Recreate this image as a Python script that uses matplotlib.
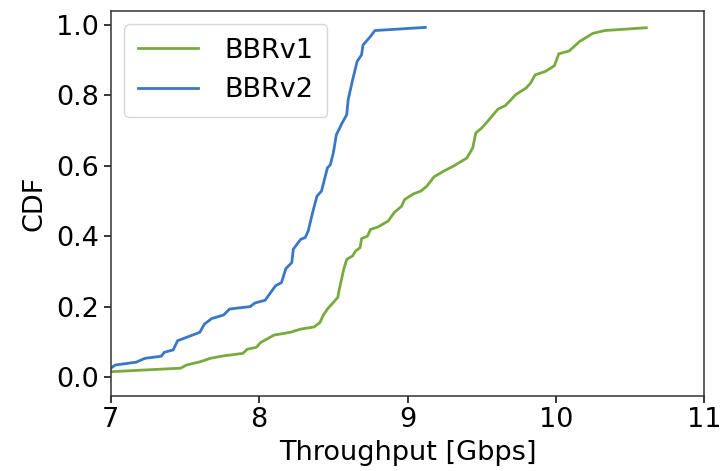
import matplotlib
matplotlib.use("Agg")
import matplotlib.pyplot as plt

# throughput (Gbps) / CDF points
BBRV1_X = [7.00, 7.47, 7.51, 7.60, 7.67, 7.76, 7.89, 7.92, 7.98, 8.01, 8.07, 8.10,
           8.21, 8.28, 8.37, 8.41, 8.43, 8.46, 8.49, 8.53, 8.54, 8.57, 8.59, 8.63,
           8.65, 8.68, 8.69, 8.73, 8.75, 8.80, 8.87, 8.91, 8.96, 8.98, 9.04, 9.09,
           9.13, 9.18, 9.25, 9.31, 9.40, 9.44, 9.46, 9.50, 9.54, 9.61, 9.66, 9.73,
           9.80, 9.83, 9.86, 9.93, 9.99, 10.02, 10.09, 10.16, 10.25, 10.33, 10.61]
BBRV1_Y = [0.015, 0.025, 0.034, 0.043, 0.053, 0.060, 0.067, 0.079, 0.084, 0.098, 0.112, 0.119,
           0.127, 0.136, 0.142, 0.155, 0.174, 0.193, 0.207, 0.226, 0.249, 0.306, 0.334, 0.344,
           0.358, 0.367, 0.393, 0.400, 0.419, 0.426, 0.443, 0.467, 0.485, 0.504, 0.520, 0.528,
           0.542, 0.569, 0.586, 0.599, 0.622, 0.651, 0.693, 0.707, 0.726, 0.761, 0.771, 0.802,
           0.821, 0.835, 0.858, 0.868, 0.884, 0.918, 0.926, 0.953, 0.976, 0.984, 0.992]

BBRV2_X = [7.00, 7.03, 7.17, 7.23, 7.34, 7.36, 7.42, 7.45, 7.60, 7.63, 7.68, 7.76,
           7.80, 7.94, 7.97, 8.04, 8.11, 8.15, 8.18, 8.22, 8.23, 8.28, 8.31, 8.33,
           8.36, 8.39, 8.42, 8.46, 8.48, 8.50, 8.52, 8.56, 8.59, 8.60, 8.63, 8.66,
           8.69, 8.70, 8.75, 8.78, 9.12]
BBRV2_Y = [0.025, 0.034, 0.042, 0.053, 0.059, 0.070, 0.077, 0.103, 0.127, 0.150, 0.166, 0.176,
           0.193, 0.200, 0.210, 0.218, 0.259, 0.268, 0.308, 0.325, 0.363, 0.391, 0.396, 0.414,
           0.467, 0.514, 0.528, 0.594, 0.603, 0.637, 0.688, 0.722, 0.745, 0.788, 0.844, 0.896,
           0.915, 0.943, 0.967, 0.984, 0.993]

X_TICKS = [7, 8, 9, 10, 11]
Y_TICKS = [0.0, 0.2, 0.4, 0.6, 0.8, 1.0]

GREEN = "#77ab3d"
BLUE = "#3878c4"


def main() -> None:
    plt.rcParams["font.family"] = "DejaVu Sans"
    plt.rcParams["font.size"] = 19.5

    fig, ax = plt.subplots(figsize=(7.2, 4.71), dpi=100)
    fig.subplots_adjust(left=0.154, right=0.978, top=0.977, bottom=0.16)

    ax.plot(BBRV1_X, BBRV1_Y, color=GREEN, lw=2.0, label="BBRv1")
    ax.plot(BBRV2_X, BBRV2_Y, color=BLUE, lw=2.0, label="BBRv2")

    ax.set_xlim(7, 11)
    ax.set_ylim(-0.053, 1.04)
    ax.set_xticks(X_TICKS)
    ax.set_yticks(Y_TICKS)
    ax.set_xlabel("Throughput [Gbps]", labelpad=5)
    ax.set_ylabel("CDF", labelpad=6)

    for sp in ax.spines.values():
        sp.set_linewidth(1.1)
        sp.set_color("#333333")
    ax.tick_params(length=5, width=1.1)

    ax.legend(loc="upper left", handlelength=2.2, handletextpad=1.0,
              borderpad=0.5, labelspacing=0.5, fontsize=19.5)

    fig.savefig("out.png", dpi=100)
    plt.close(fig)


if __name__ == "__main__":
    main()
